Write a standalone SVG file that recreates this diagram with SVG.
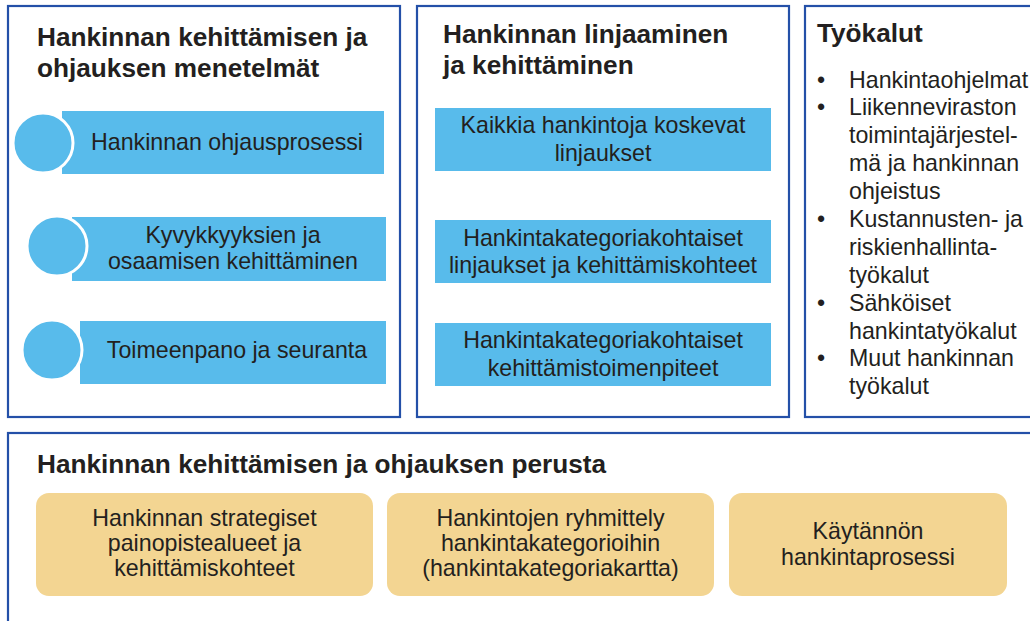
<svg xmlns="http://www.w3.org/2000/svg" width="1030" height="621" viewBox="0 0 1030 621">
<style>
.panel{fill:#fff;stroke:#2450a8;stroke-width:2.2}
.bar{fill:#58bbeb}
.dot{fill:#58bbeb;stroke:#fff;stroke-width:3}
.tan{fill:#f3d592}
.h{font-family:"Liberation Sans",Arial,sans-serif;font-weight:bold;font-size:26.2px;fill:#231f20}
.t{font-family:"Liberation Sans",Arial,sans-serif;font-size:23.2px;fill:#231f20}
.c{text-anchor:middle}
</style>
<rect width="1030" height="621" fill="#fff"/>
<g id="panel-menetelmat">
<rect class="panel" x="8" y="6" width="392" height="411"/>
<text class="h" x="37" y="46">Hankinnan kehittämisen ja</text>
<text class="h" x="37" y="77">ohjauksen menetelmät</text>
</g>
<g id="node-ohjausprosessi">
<rect class="bar" x="62" y="111" width="322" height="63"/>
<circle class="dot" cx="43" cy="143" r="30"/>
<text class="t c" x="227" y="150">Hankinnan ohjausprosessi</text>
</g>
<g id="node-kyvykkyydet">
<rect class="bar" x="72" y="217" width="314" height="64"/>
<circle class="dot" cx="57" cy="246" r="30"/>
<text class="t c" x="233" y="243">Kyvykkyyksien ja</text>
<text class="t c" x="233" y="269">osaamisen kehittäminen</text>
</g>
<g id="node-toimeenpano">
<rect class="bar" x="80" y="321" width="306" height="63"/>
<circle class="dot" cx="52" cy="350" r="30"/>
<text class="t c" x="237" y="358">Toimeenpano ja seuranta</text>
</g>
<g id="panel-linjaaminen">
<rect class="panel" x="417" y="6" width="372" height="411"/>
<text class="h" x="443" y="43">Hankinnan linjaaminen</text>
<text class="h" x="443" y="74">ja kehittäminen</text>
</g>
<g id="node-linjaukset">
<rect class="bar" x="435" y="108" width="336" height="63"/>
<text class="t c" x="603" y="133">Kaikkia hankintoja koskevat</text>
<text class="t c" x="603" y="161">linjaukset</text>
</g>
<g id="node-kategorialinjaukset">
<rect class="bar" x="435" y="220" width="336" height="63"/>
<text class="t c" x="603" y="246">Hankintakategoriakohtaiset</text>
<text class="t c" x="603" y="273">linjaukset ja kehittämiskohteet</text>
</g>
<g id="node-toimenpiteet">
<rect class="bar" x="435" y="323" width="336" height="63"/>
<text class="t c" x="603" y="348">Hankintakategoriakohtaiset</text>
<text class="t c" x="603" y="376">kehittämistoimenpiteet</text>
</g>
<g id="panel-tyokalut">
<rect class="panel" x="805" y="6" width="240" height="411"/>
<text class="h" x="817" y="42">Työkalut</text>
<g class="t">
<text x="817" y="88">•</text><text x="849" y="88">Hankintaohjelmat</text>
<text x="817" y="115">•</text><text x="849" y="115">Liikenneviraston</text>
<text x="849" y="143">toimintajärjestel-</text>
<text x="849" y="171">mä ja hankinnan</text>
<text x="849" y="199">ohjeistus</text>
<text x="817" y="227">•</text><text x="849" y="227">Kustannusten- ja</text>
<text x="849" y="255">riskienhallinta-</text>
<text x="849" y="283">työkalut</text>
<text x="817" y="311">•</text><text x="849" y="311">Sähköiset</text>
<text x="849" y="339">hankintatyökalut</text>
<text x="817" y="366">•</text><text x="849" y="366">Muut hankinnan</text>
<text x="849" y="394">työkalut</text>
</g>
</g>
<g id="panel-perusta">
<rect class="panel" x="8" y="433" width="1040" height="200"/>
<text class="h" x="37" y="473">Hankinnan kehittämisen ja ohjauksen perusta</text>
</g>
<g id="node-painopisteet">
<rect class="tan" x="36" y="493" width="337" height="103" rx="13"/>
<text class="t c" x="204.5" y="526">Hankinnan strategiset</text>
<text class="t c" x="204.5" y="551">painopistealueet ja</text>
<text class="t c" x="204.5" y="576">kehittämiskohteet</text>
</g>
<g id="node-ryhmittely">
<rect class="tan" x="387" y="493" width="327" height="103" rx="13"/>
<text class="t c" x="550.5" y="526">Hankintojen ryhmittely</text>
<text class="t c" x="550.5" y="551">hankintakategorioihin</text>
<text class="t c" x="550.5" y="576">(hankintakategoriakartta)</text>
</g>
<g id="node-hankintaprosessi">
<rect class="tan" x="729" y="493" width="278" height="103" rx="13"/>
<text class="t c" x="868" y="539">Käytännön</text>
<text class="t c" x="868" y="565">hankintaprosessi</text>
</g>
<g id="connectors"/>
</svg>
